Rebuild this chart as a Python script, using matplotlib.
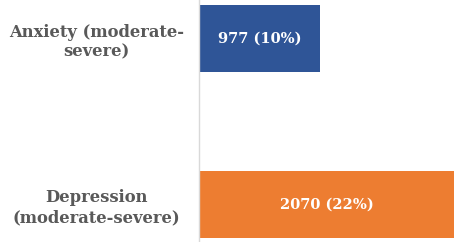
import matplotlib
matplotlib.use("Agg")
import matplotlib.pyplot as plt

categories = ["Depression\n(moderate-severe)", "Anxiety (moderate-\nsevere)"]
values = [2070, 977]
labels = ["2070 (22%)", "977 (10%)"]
colors = ["#ED7D31", "#2F5597"]

fig = plt.figure(figsize=(4.54, 2.42), dpi=100)
ax = fig.add_axes([199/454, 0, 1 - 199/454, 1])
ypos = list(range(len(categories)))
bars = ax.barh(ypos, values, height=0.4, color=colors)
for b, lab in zip(bars, labels):
    ax.text(b.get_width() / 2, b.get_y() + b.get_height() / 2, lab,
            ha="center", va="center", color="white", fontsize=10.5,
            fontweight="bold", family="DejaVu Serif")
ax.set_xlim(0, 2060)
ax.set_ylim(-0.226, 1.232)
ax.set_yticks(ypos)
ax.set_yticklabels(categories, ha="center", fontsize=11.8, fontweight="bold",
                   color="#595959", family="DejaVu Serif", linespacing=1.2)
ax.tick_params(axis="y", length=0, pad=74)
ax.set_xticks([])
for s in ["top", "right", "bottom"]:
    ax.spines[s].set_visible(False)
ax.spines["left"].set_color("#D9D9D9")
ax.spines["left"].set_linewidth(1.0)
fig.savefig("out.png", dpi=100)
